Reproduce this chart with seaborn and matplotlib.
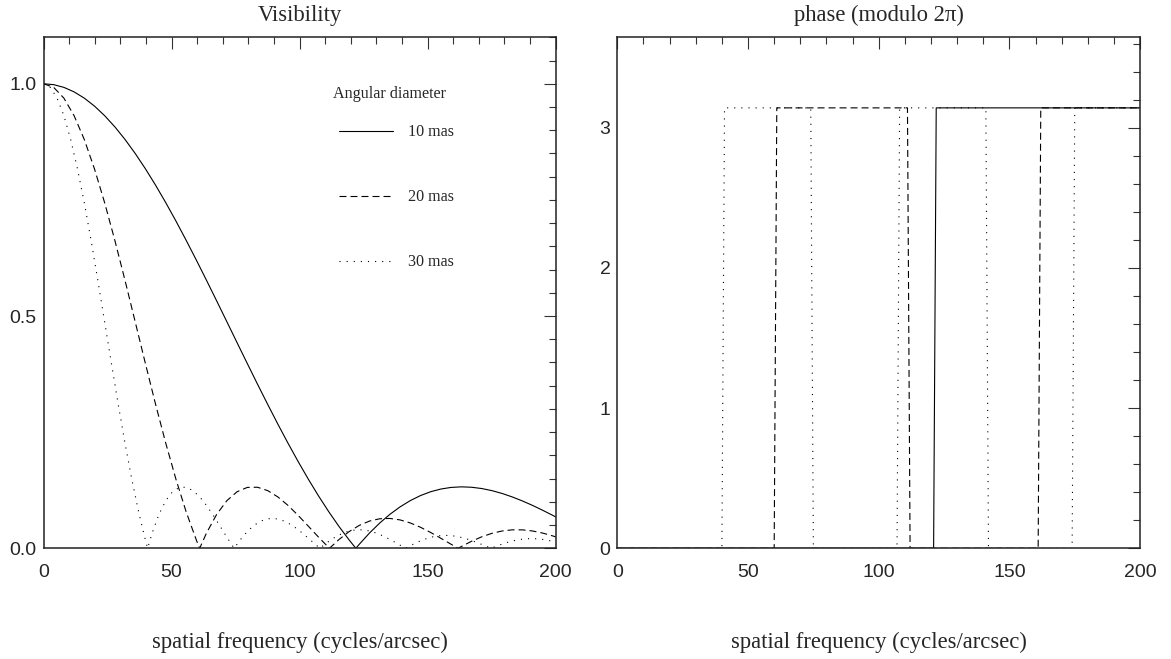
import matplotlib
matplotlib.use("Agg")
import matplotlib.pyplot as plt
import seaborn as sns
import pandas as pd
from matplotlib.ticker import MultipleLocator, FormatStrFormatter

# ---------------- data ----------------
# Visibility, 10 mas
u10 = [0.00, 3.98, 7.96, 11.94, 15.92, 19.89, 23.87, 27.85, 31.83, 35.81, 39.79, 43.77,
       47.75, 51.73, 55.70, 59.68, 63.66, 67.64, 71.62, 75.60, 79.58, 83.56, 87.54, 91.51,
       95.49, 99.47, 103.45, 107.43, 111.41, 115.39, 119.37, 121.97, 123.35, 127.32,
       131.30, 135.28, 139.26, 143.24, 147.22, 151.20, 155.18, 159.15, 163.13, 167.11,
       171.09, 175.07, 179.05, 183.03, 187.01, 190.99, 194.96, 198.94, 200.00]
v10 = [1.0, 0.99805, 0.99221, 0.98253, 0.96907, 0.95196, 0.93132, 0.90730, 0.88010,
       0.84992, 0.81700, 0.78157, 0.74392, 0.70431, 0.66304, 0.62041, 0.57672, 0.53230,
       0.48745, 0.44247, 0.39768, 0.35336, 0.30980, 0.26727, 0.22604, 0.18634, 0.14838,
       0.11238, 0.07850, 0.04691, 0.01772, 0.0, 0.0089, 0.03302, 0.05445, 0.07321,
       0.08926, 0.10269, 0.11351, 0.12181, 0.12759, 0.13103, 0.13226, 0.13142, 0.12866,
       0.12416, 0.11806, 0.11057, 0.10190, 0.09223, 0.08173, 0.07061, 0.06752]

# Visibility, 20 mas
u20 = [0.00, 3.98, 7.96, 11.94, 15.92, 19.89, 23.87, 27.85, 31.83, 35.81, 39.79, 43.77,
       47.75, 51.73, 55.70, 59.68, 60.98, 63.66, 67.64, 71.62, 75.60, 79.58, 83.56, 87.54,
       91.51, 95.49, 99.47, 103.45, 107.43, 111.41, 111.66, 115.39, 119.37, 123.35,
       127.32, 131.30, 135.28, 139.26, 143.24, 147.22, 151.20, 155.18, 159.15, 161.92,
       163.13, 167.11, 171.09, 175.07, 179.05, 183.03, 187.01, 190.99, 194.96, 198.94,
       200.00]
v20 = [1.00000, 0.99221, 0.96907, 0.93132, 0.88010, 0.81700, 0.74392, 0.66304, 0.57672,
       0.48745, 0.39768, 0.30980, 0.22604, 0.14838, 0.07850, 0.01772, 0.0, 0.03302,
       0.07321, 0.10269, 0.12181, 0.13103, 0.13142, 0.12416, 0.11057, 0.09223, 0.07061,
       0.04734, 0.02379, 0.00134, 0.0, 0.01892, 0.03606, 0.04944, 0.05866, 0.06356,
       0.06426, 0.06107, 0.05451, 0.04521, 0.03395, 0.02150, 0.00869, 0.0, 0.00372,
       0.01502, 0.02465, 0.03214, 0.03721, 0.03972, 0.03967, 0.03724, 0.03270, 0.02648,
       0.02449]

# Visibility, 30 mas
u30 = [0.00, 2.65, 5.31, 7.96, 10.61, 13.26, 15.92, 18.57, 21.22, 23.87, 26.53, 29.18,
       31.83, 34.48, 37.14, 39.79, 40.66, 42.44, 45.09, 47.75, 50.40, 53.05, 55.70, 58.36,
       61.01, 63.66, 66.31, 68.97, 71.62, 74.27, 74.44, 76.92, 79.58, 82.23, 84.88, 87.54,
       90.19, 92.84, 95.49, 98.15, 100.80, 103.45, 106.10, 107.94, 108.76, 111.41, 114.06,
       116.71, 119.37, 122.02, 124.67, 127.32, 129.98, 132.63, 135.28, 137.93, 140.59,
       141.37, 143.24, 145.89, 148.54, 151.20, 153.85, 156.50, 159.15, 161.81, 164.46,
       167.11, 169.77, 172.42, 174.76, 175.07, 177.72, 180.37, 183.03, 185.68, 188.33,
       190.99, 193.64, 196.29, 198.94, 200.00]
v30 = [1.00000, 0.99221, 0.96907, 0.93132, 0.88010, 0.81700, 0.74392, 0.66304, 0.57672,
       0.48745, 0.39768, 0.30980, 0.22604, 0.14838, 0.07850, 0.01772, 0.0, 0.03302,
       0.07321, 0.10269, 0.12181, 0.13103, 0.13142, 0.12416, 0.11057, 0.09223, 0.07061,
       0.04734, 0.02379, 0.00134, 0.0, 0.01892, 0.03606, 0.04944, 0.05866, 0.06356,
       0.06426, 0.06107, 0.05451, 0.04521, 0.03395, 0.02150, 0.00869, 0.0, 0.00372,
       0.01502, 0.02465, 0.03214, 0.03721, 0.03972, 0.03967, 0.03724, 0.03270, 0.02648,
       0.01900, 0.01082, 0.00243, 0.0, 0.00564, 0.01293, 0.01905, 0.02370, 0.02668,
       0.02788, 0.02735, 0.02517, 0.02157, 0.01684, 0.01130, 0.00532, 0.0, 0.00072,
       0.00643, 0.01149, 0.01565, 0.01871, 0.02046, 0.02089, 0.02004, 0.01800, 0.01495,
       0.01340]

# Phase (modulo 2 pi)
pu10 = [0, 121, 122, 200]
ph10 = [0.0, 0.0, 3.1416, 3.1416]
pu20 = [0, 60, 61, 111, 112, 161, 162, 200]
ph20 = [0.0, 0.0, 3.1416, 3.1416, 0.0, 0.0, 3.1416, 3.1416]
pu30 = [0, 40, 41, 74, 75, 107, 108, 141, 142, 174, 175, 200]
ph30 = [0.0, 0.0, 3.1416, 3.1416, 0.0, 0.0, 3.1416, 3.1416, 0.0, 0.0, 3.1416, 3.1416]

labels = ["10 mas", "20 mas", "30 mas"]

# ---------------- styling ----------------
sns.set_style("white")
plt.rcParams['font.family'] = ['Liberation Sans', 'DejaVu Sans']
SERIF = ['Liberation Serif', 'DejaVu Serif']

LW = 0.8
styles = ['-', (0, (6.3, 3.6)), (0, (1.0, 5.4))]

fig = plt.figure(figsize=(11.71, 6.59), dpi=100)
axL = fig.add_axes([0.03715, 0.1680, 0.4374, 0.7754])
axR = fig.add_axes([0.5272, 0.1680, 0.4464, 0.7754])

vis = [(u10, v10), (u20, v20), (u30, v30)]
pha = [(pu10, ph10), (pu20, ph20), (pu30, ph30)]

for (u, v), ls, lab in zip(vis, styles, labels):
    df = pd.DataFrame({"u": u, "v": v})
    sns.lineplot(data=df, x="u", y="v", ax=axL, color='black', lw=LW,
                 linestyle=ls, sort=False, estimator=None, label=lab, legend=False)

for (u, p), ls in zip(pha, styles):
    df = pd.DataFrame({"u": u, "p": p})
    sns.lineplot(data=df, x="u", y="p", ax=axR, color='black', lw=LW,
                 linestyle=ls, sort=False, estimator=None, legend=False)

axL.set_xlim(0, 200)
axL.set_ylim(0, 1.1)
axR.set_xlim(0, 200)
axR.set_ylim(0, 3.645)

for ax in (axL, axR):
    ax.xaxis.set_major_locator(MultipleLocator(50))
    ax.xaxis.set_minor_locator(MultipleLocator(10))
    ax.tick_params(which='both', direction='in', top=True, right=True,
                   color='#333333', width=0.8, labelsize=14)
    ax.tick_params(which='major', length=8.6)
    ax.tick_params(which='minor', length=5.0)
    ax.tick_params(axis='x', pad=11)
    ax.tick_params(axis='y', pad=5)
    for s in ax.spines.values():
        s.set_linewidth(1.1)
        s.set_color('#222222')
    ax.set_xlabel("spatial frequency (cycles/arcsec)", family=SERIF, fontsize=16.3,
                  labelpad=37)
    ax.set_ylabel("")
    ax.grid(False)

axL.yaxis.set_major_locator(MultipleLocator(0.5))
axL.yaxis.set_minor_locator(MultipleLocator(0.05))
axL.yaxis.set_major_formatter(FormatStrFormatter('%.1f'))
axR.yaxis.set_major_locator(MultipleLocator(1))
axR.yaxis.set_minor_locator(MultipleLocator(0.2))

axL.set_title("Visibility", family=SERIF, fontsize=16.3, pad=12)
axR.set_title("phase (modulo 2\u03c0)", family=SERIF, fontsize=16.3, pad=12)

# legend
axL.text(0.5655, 0.889, "Angular diameter", transform=axL.transAxes, family=SERIF,
         fontsize=11.6, ha='left', va='center')
handles = axL.get_lines()[:3]
axL.legend(handles=handles, labels=labels, loc='upper left',
           bbox_to_anchor=(0.577, 0.830), frameon=False, borderpad=0,
           borderaxespad=0, handlelength=3.35, handletextpad=0.9,
           labelspacing=3.05, prop={'family': SERIF, 'size': 11.6})

fig.savefig("out.png", dpi=100)
